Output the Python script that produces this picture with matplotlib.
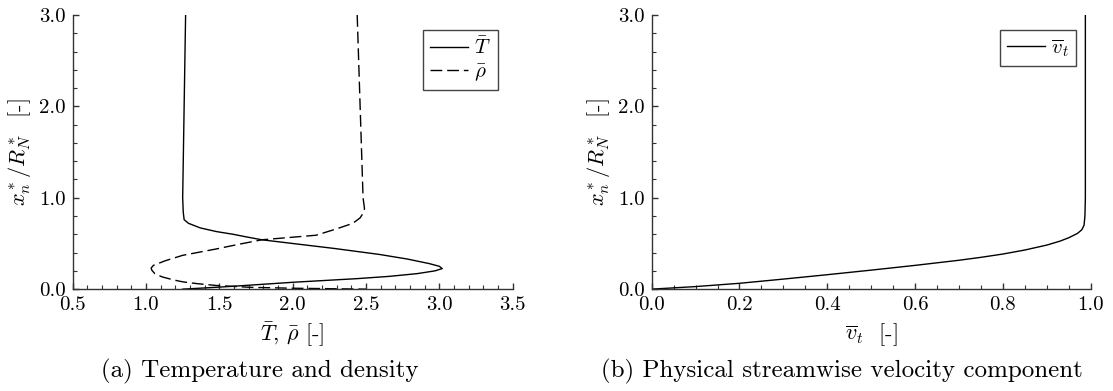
import matplotlib
matplotlib.use('Agg')
import matplotlib.pyplot as plt
from matplotlib.ticker import MultipleLocator, FormatStrFormatter

plt.rcParams['font.family'] = 'serif'
plt.rcParams['font.serif'] = ['cmr10']
plt.rcParams['mathtext.fontset'] = 'cm'
plt.rcParams['axes.formatter.use_mathtext'] = True

# wall-normal coordinate and profiles
xn_T = [3.0, 2.5, 2.0, 1.5, 1.0, 0.84, 0.76, 0.72, 0.67, 0.63, 0.60, 0.57, 0.54,
        0.49, 0.446, 0.38, 0.33, 0.28, 0.25, 0.225, 0.20, 0.17, 0.14, 0.115,
        0.095, 0.075, 0.06, 0.045, 0.03, 0.015, 0.0]
T_bar = [1.27, 1.265, 1.26, 1.255, 1.25, 1.254, 1.26, 1.29, 1.37, 1.48, 1.595, 1.69, 1.79,
         2.05, 2.28, 2.59, 2.78, 2.93, 3.0, 3.02, 2.97, 2.85, 2.66, 2.44,
         2.22, 2.0, 1.86, 1.72, 1.58, 1.42, 1.25]

xn_rho = [3.0, 2.0, 1.0, 0.88, 0.83, 0.78, 0.72, 0.66, 0.59, 0.54, 0.49, 0.44,
          0.37, 0.31, 0.26, 0.23, 0.207, 0.17, 0.134, 0.10, 0.08, 0.06, 0.04,
          0.02, 0.01, 0.0]
rho_bar = [2.44, 2.46, 2.48, 2.49, 2.48, 2.46, 2.41, 2.30, 2.16, 1.79, 1.63, 1.48,
           1.25, 1.13, 1.05, 1.035, 1.04, 1.06, 1.11, 1.19, 1.25, 1.35, 1.48,
           1.71, 2.0, 2.5]

xn_v = [0.0, 0.028, 0.064, 0.11, 0.158, 0.208, 0.26, 0.316, 0.348, 0.384, 0.428,
        0.482, 0.525, 0.562, 0.61, 0.65, 0.70, 0.80, 1.0, 2.0, 3.0]
v_t = [0.0, 0.1, 0.2, 0.3, 0.4, 0.5, 0.6, 0.7, 0.75, 0.8, 0.85,
       0.9, 0.93, 0.95, 0.97, 0.98, 0.985, 0.987, 0.988, 0.988, 0.988]

fig = plt.figure(figsize=(11.13, 3.91), dpi=100)
ax1 = fig.add_axes([0.0653, 0.2605, 0.3953, 0.7012])
ax2 = fig.add_axes([0.5855, 0.2605, 0.3944, 0.7012])

ax1.plot(T_bar, xn_T, color='black', lw=1.0, label=r'$\bar{T}$')
ax1.plot(rho_bar, xn_rho, color='black', lw=1.0, linestyle=(0, (8.5, 3.5)),
         label=r'$\bar{\rho}$')
ax2.plot(v_t, xn_v, color='black', lw=1.0, label=r'$\overline{v}_t$')

ax1.set_xlim(0.5, 3.5)
ax2.set_xlim(0.0, 1.0)
ax1.xaxis.set_major_locator(MultipleLocator(0.5))
ax1.xaxis.set_minor_locator(MultipleLocator(0.1))
ax2.xaxis.set_major_locator(MultipleLocator(0.2))
ax2.xaxis.set_minor_locator(MultipleLocator(0.05))

for ax in (ax1, ax2):
    ax.set_ylim(0.0, 3.0)
    ax.yaxis.set_major_locator(MultipleLocator(1.0))
    ax.yaxis.set_minor_locator(MultipleLocator(0.2))
    ax.xaxis.set_major_formatter(FormatStrFormatter('%.1f'))
    ax.yaxis.set_major_formatter(FormatStrFormatter('%.1f'))
    ax.spines['top'].set_visible(False)
    ax.spines['right'].set_visible(False)
    for s in ('left', 'bottom'):
        ax.spines[s].set_color('#333333')
        ax.spines[s].set_linewidth(1.0)
    ax.tick_params(which='both', direction='in', colors='#333333', labelcolor='black',
                   labelsize=15)
    ax.tick_params(which='major', length=4.5, width=1.0, pad=5)
    ax.tick_params(which='minor', length=3, width=0.8)
    ax.set_ylabel(r'$x_n^*/R_N^*$  [-]', fontsize=16, labelpad=4)
    leg = ax.legend(loc='upper right', fontsize=15, frameon=True, fancybox=False,
                    edgecolor='#444444', framealpha=1.0, borderaxespad=0.7,
                    handlelength=1.8, borderpad=0.35, labelspacing=0.2,
                    handletextpad=0.3)
    leg.get_frame().set_linewidth(1.0)

ax1.set_xlabel(r'$\bar{T}$, $\bar{\rho}$ [-]', fontsize=16, labelpad=5)
ax2.set_xlabel(r'$\overline{v}_t$  [-]', fontsize=16, labelpad=5)

fig.text(260 / 1113, 0.049, '(a) Temperature and density', ha='center', va='center',
         fontsize=18)
fig.text(842 / 1113, 0.049, '(b) Physical streamwise velocity component', ha='center',
         va='center', fontsize=18)

fig.savefig('out.png', dpi=100)
